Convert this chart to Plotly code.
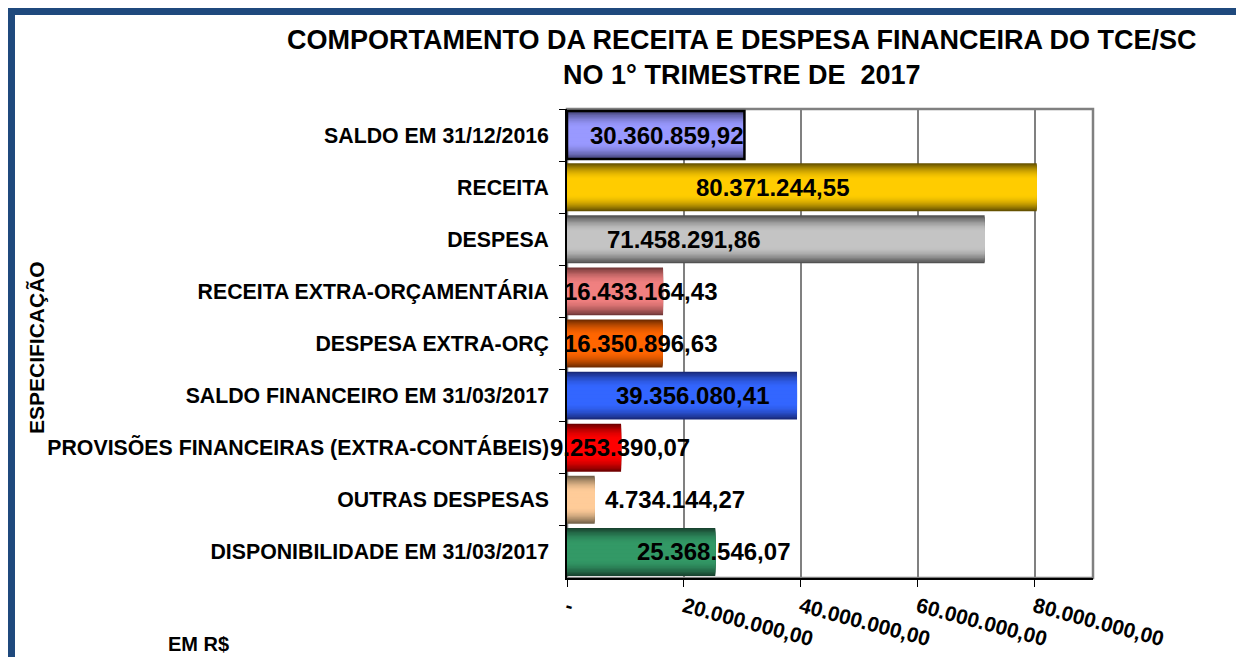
import plotly.graph_objects as go

# ---------------- data ----------------
categories = [
    "SALDO EM 31/12/2016",
    "RECEITA",
    "DESPESA",
    "RECEITA EXTRA-ORÇAMENTÁRIA",
    "DESPESA EXTRA-ORÇ",
    "SALDO FINANCEIRO EM 31/03/2017",
    "PROVISÕES FINANCEIRAS (EXTRA-CONTÁBEIS)",
    "OUTRAS DESPESAS",
    "DISPONIBILIDADE EM 31/03/2017",
]
values = [
    30360859.92,
    80371244.55,
    71458291.86,
    16433164.43,
    16350896.63,
    39356080.41,
    9253390.07,
    4734144.27,
    25368546.07,
]
value_labels = [
    "30.360.859,92",
    "80.371.244,55",
    "71.458.291,86",
    "16.433.164,43",
    "16.350.896,63",
    "39.356.080,41",
    "9.253.390,07",
    "4.734.144,27",
    "25.368.546,07",
]
x_tickvals = [0, 20000000, 40000000, 60000000, 80000000]
x_ticktext = ["-", "20.000.000,00", "40.000.000,00", "60.000.000,00", "80.000.000,00"]

# ---------------- styles ----------------
light_colors = ["#9999FF", "#FFCC00", "#C4C4C4", "#F08080", "#FF6600",
                "#3366FF", "#FF0000", "#FFCC99", "#339966"]
dark_colors = ["#44447a", "#665200", "#525252", "#733838", "#702c00",
               "#18297a", "#700000", "#706048", "#184430"]
# label centre positions (data units) as placed in the original chart
label_x = [17.1e6, 35.2e6, 20.0e6, 12.5e6, 12.5e6, 21.4e6, 9.1e6, 18.5e6, 25.0e6]

FONT = "Liberation Sans, Arial, sans-serif"
OFF = 8  # page body margin
W_PX, H_PX = 1244 - OFF, 657 - OFF
# plot area in screen pixels
L, R, T, B = 567, 1093, 109, 578


def hex2rgb(h):
    h = h.lstrip("#")
    return tuple(int(h[i:i + 2], 16) for i in (0, 2, 4))


def mix(c1, c2, t):
    a, b = hex2rgb(c1), hex2rgb(c2)
    return "rgb(%d,%d,%d)" % tuple(round(a[i] + (b[i] - a[i]) * t) for i in range(3))


fig = go.Figure()
n_layers = 18
bar_w = 0.92
for k in range(n_layers):
    frac = k / (n_layers - 1)
    t = min(1.0, frac / 0.7)
    t = 1 - (1 - t) ** 1.8
    w = bar_w * (1 - k / n_layers)
    fig.add_trace(go.Bar(
        y=categories, x=values, orientation="h",
        width=w,
        marker=dict(color=[mix(d, l, t) for d, l in zip(dark_colors, light_colors)],
                    line=dict(width=0)),
        hoverinfo="skip", showlegend=False,
    ))
# border on the first (selected) bar
fig.add_trace(go.Bar(
    y=categories, x=values, orientation="h", width=bar_w,
    marker=dict(color="rgba(0,0,0,0)",
                line=dict(color="black", width=[2.5] + [0] * (len(values) - 1))),
    hoverinfo="skip", showlegend=False,
))

for cat, lx, txt in zip(categories, label_x, value_labels):
    fig.add_annotation(x=lx, y=cat, text="<b>%s</b>" % txt, showarrow=False,
                       xanchor="center", yanchor="middle",
                       font=dict(family=FONT, size=24, color="black"))

pw, ph = R - L, B - T


def px(x):
    return (x - L) / pw


def py(y):
    return 1 - (y - T) / ph


# outer dark-blue frame
fig.add_shape(type="rect", xref="paper", yref="paper",
              x0=px(11), x1=px(1300), y0=py(11), y1=py(720),
              line=dict(color="#1F497D", width=8), fillcolor="rgba(0,0,0,0)", layer="above")
# plot-area border (top & right)
fig.add_shape(type="rect", xref="paper", yref="paper", x0=0, x1=1, y0=0, y1=1,
              line=dict(color="#808080", width=2.5), fillcolor="rgba(0,0,0,0)", layer="below")

fig.add_annotation(xref="paper", yref="paper", x=px(742), y=py(57),
                   text="<b>COMPORTAMENTO DA RECEITA E DESPESA FINANCEIRA DO TCE/SC<br>NO 1° TRIMESTRE DE  2017</b>",
                   showarrow=False, xanchor="center", yanchor="middle",
                   font=dict(family=FONT, size=27, color="black"))
fig.add_annotation(xref="paper", yref="paper", x=px(36), y=py(348),
                   text="<b>ESPECIFICAÇÃO</b>", textangle=-90, showarrow=False,
                   xanchor="center", yanchor="middle",
                   font=dict(family=FONT, size=21, color="black"))
fig.add_annotation(xref="paper", yref="paper", x=px(198), y=py(644),
                   text="<b>EM R$</b>", showarrow=False,
                   xanchor="center", yanchor="middle",
                   font=dict(family=FONT, size=20, color="black"))

fig.update_layout(
    width=W_PX, height=H_PX,
    margin=dict(l=L - OFF, r=W_PX - (R - OFF), t=T - OFF, b=H_PX - (B - OFF), autoexpand=False),
    paper_bgcolor="white", plot_bgcolor="white",
    barmode="overlay", bargap=0.08,
    font=dict(family=FONT, color="black"),
    xaxis=dict(range=[0, 90000000], tickvals=x_tickvals, ticktext=x_ticktext,
               tickangle=15, ticks="outside", ticklen=7, tickcolor="black",
               showline=True, linecolor="black", linewidth=1.5,
               showgrid=True, gridcolor="#808080", gridwidth=2,
               zeroline=False,
               tickfont=dict(family=FONT, size=21, color="black", weight="bold")),
    yaxis=dict(autorange="reversed", type="category",
               ticks="outside", ticklen=6, tickcolor="black", tickson="boundaries",
               showline=True, linecolor="black", linewidth=1.5,
               showgrid=False, ticklabelstandoff=12,
               tickfont=dict(family=FONT, size=21.3, color="black", weight="bold")),
)

fig.write_html("out.html")
